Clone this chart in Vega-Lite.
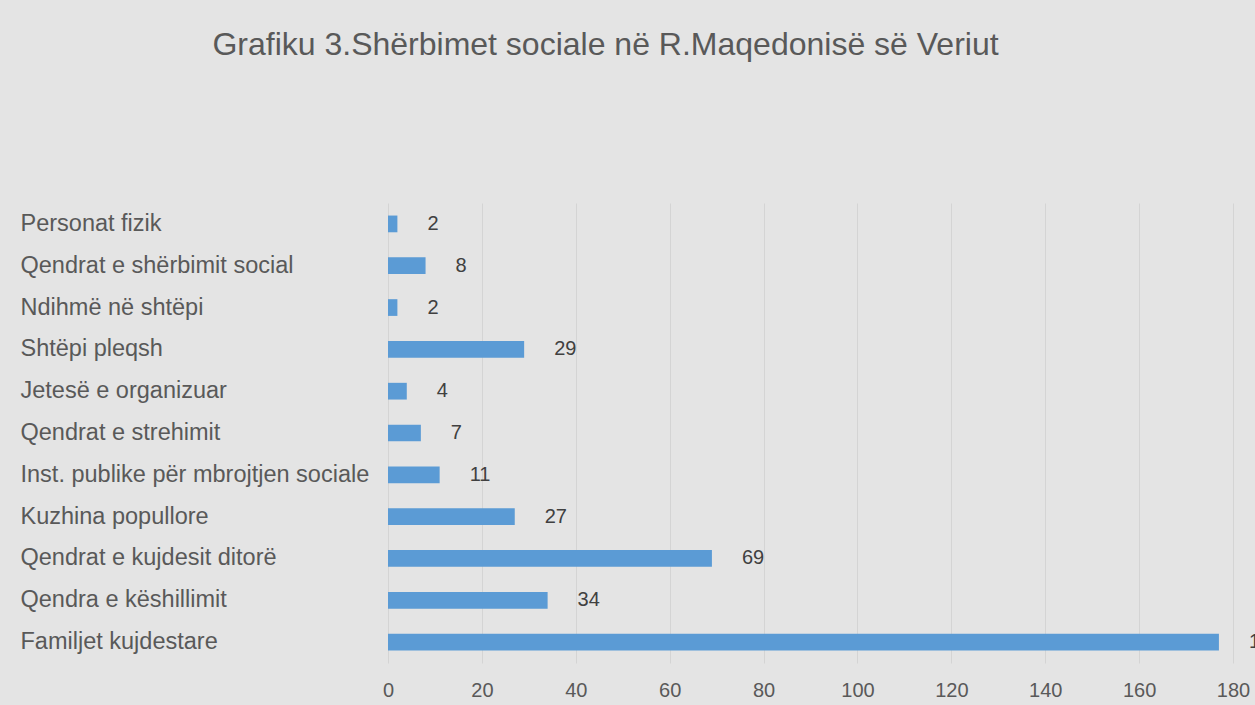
{
  "$schema": "https://vega.github.io/schema/vega-lite/v6.json",
  "autosize": "none",
  "width": 845,
  "height": 460,
  "padding": {"left": 388, "top": 203, "right": 22, "bottom": 42},
  "background": "#e4e4e4",
  "title": {
    "text": "Grafiku 3.Shërbimet sociale në R.Maqedonisë së Veriut",
    "font": "Liberation Sans",
    "fontSize": 32,
    "fontWeight": "normal",
    "color": "#595959",
    "anchor": "middle",
    "frame": "group",
    "dx": -205,
    "offset": 141
  },
  "data": {
    "values": [
      {"kategoria": "Personat fizik", "vlera": 2},
      {"kategoria": "Qendrat e shërbimit social", "vlera": 8},
      {"kategoria": "Ndihmë në shtëpi", "vlera": 2},
      {"kategoria": "Shtëpi pleqsh", "vlera": 29},
      {"kategoria": "Jetesë e organizuar", "vlera": 4},
      {"kategoria": "Qendrat e strehimit", "vlera": 7},
      {"kategoria": "Inst. publike për mbrojtjen sociale", "vlera": 11},
      {"kategoria": "Kuzhina popullore", "vlera": 27},
      {"kategoria": "Qendrat e kujdesit ditorë", "vlera": 69},
      {"kategoria": "Qendra e këshillimit", "vlera": 34},
      {"kategoria": "Familjet kujdestare", "vlera": 177}
    ]
  },
  "encoding": {
    "y": {
      "field": "kategoria",
      "type": "nominal",
      "sort": null,
      "scale": {"paddingInner": 0.6, "paddingOuter": 0.3},
      "axis": {
        "title": null,
        "domain": false,
        "ticks": false,
        "labelAlign": "left",
        "labelPadding": 368,
        "labelFont": "Liberation Sans",
        "labelFontSize": 23.5,
        "labelColor": "#595959",
        "labelLimit": 400
      }
    },
    "x": {
      "field": "vlera",
      "type": "quantitative",
      "scale": {"domain": [0, 180], "nice": false},
      "axis": {
        "title": null,
        "values": [0, 20, 40, 60, 80, 100, 120, 140, 160, 180],
        "domain": false,
        "ticks": false,
        "grid": true,
        "gridColor": "#d4d4d4",
        "gridWidth": 1,
        "labelPadding": 17,
        "labelFont": "Liberation Sans",
        "labelFontSize": 20,
        "labelColor": "#595959",
        "labelFlush": false
      }
    }
  },
  "layer": [
    {"mark": {"type": "bar", "color": "#5b9bd5"}},
    {
      "mark": {
        "type": "text",
        "align": "left",
        "baseline": "middle",
        "dx": 30,
        "font": "Liberation Sans",
        "fontSize": 20,
        "color": "#404040"
      },
      "encoding": {"text": {"field": "vlera", "type": "quantitative"}}
    }
  ],
  "config": {"view": {"stroke": null}}
}
